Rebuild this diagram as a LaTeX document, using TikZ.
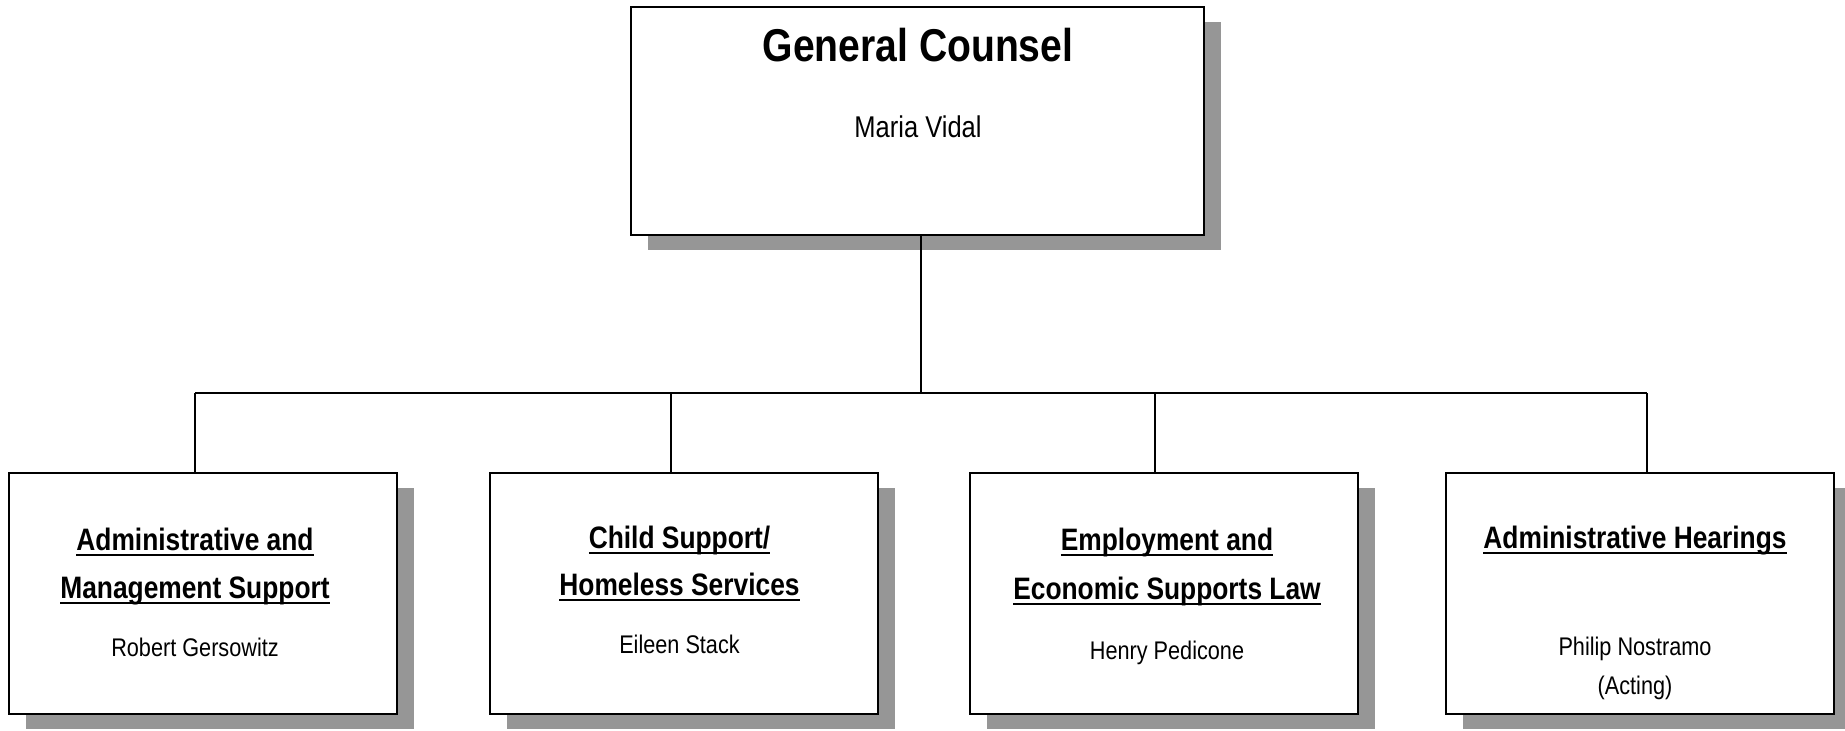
\documentclass[tikz,border=0pt]{standalone}
\usepackage{fontspec}
\setmainfont{Liberation Sans}[FakeStretch=0.85]
\usetikzlibrary{shadows}
\definecolor{shadegray}{RGB}{150,150,150}
\newcommand\ulin[1]{{\setbox0\hbox{#1}\rlap{\rule[-3pt]{\wd0}{1.25pt}}\box0}}
\begin{document}
\begin{tikzpicture}[x=0.5pt,y=-0.5pt,
  orgbox/.style={draw=black, line width=1pt, fill=white, inner sep=0pt,
    general shadow={fill=shadegray, shadow xshift=8.5pt, shadow yshift=-7.5pt}},
  unitbox/.style={orgbox, minimum width=194pt, minimum height=120.5pt},
  titletext/.style={anchor=base, inner sep=0pt, font=\fontsize{23}{27}\selectfont\bfseries},
  bossname/.style={anchor=base, inner sep=0pt, font=\fontsize{15}{18}\selectfont},
  headtext/.style={anchor=base, inner sep=0pt, font=\fontsize{15.5}{18}\selectfont\bfseries},
  nametext/.style={anchor=base, inner sep=0pt, font=\fontsize{12.75}{15}\selectfont},
  link/.style={draw=black, line width=1pt}]
\useasboundingbox (0,0) rectangle (1845,730);

% top box
\node[orgbox, minimum width=286.5pt, minimum height=114pt] (gc) at (917.5,121) {};
\node[titletext] (gct) at (918,61) {General Counsel};
\node[bossname] (gcn) at (918,137) {Maria Vidal};

% unit boxes
\node[unitbox] (b1) at (203,593.5) {};
\node[unitbox] (b2) at (684.25,593.5) {};
\node[unitbox] (b3) at (1164,593.5) {};
\node[unitbox] (b4) at (1640,593.5) {};

% box 1
\node[headtext] (b1h1) at (195,550) {\ulin{Administrative and}};
\node[headtext] (b1h2) at (195,598) {\ulin{Management Support}};
\node[nametext] (b1n) at (195,656) {Robert Gersowitz};
% box 2
\node[headtext] (b2h1) at (679.5,548) {\ulin{Child Support/}};
\node[headtext] (b2h2) at (679.5,595) {\ulin{Homeless Services}};
\node[nametext] (b2n) at (679.5,653) {Eileen Stack};
% box 3
\node[headtext] (b3h1) at (1167,550) {\ulin{Employment and}};
\node[headtext] (b3h2) at (1167,599) {\ulin{Economic Supports Law}};
\node[nametext] (b3n) at (1167,659) {Henry Pedicone};
% box 4
\node[headtext] (b4h1) at (1635,548) {\ulin{Administrative Hearings}};
\node[nametext] (b4n1) at (1635,655) {Philip Nostramo};
\node[nametext] (b4n2) at (1635,694) {(Acting)};

% connectors
\coordinate (hub) at (921,393);
\coordinate (d1) at (195,393);
\coordinate (d2) at (671,393);
\coordinate (d3) at (1155,393);
\coordinate (d4) at (1647,393);
\draw[link] (gc.south -| hub) -- (hub);
\draw[link] (d1) -- (d4);
\draw[link] (d1) -- (d1 |- b1.north);
\draw[link] (d2) -- (d2 |- b2.north);
\draw[link] (d3) -- (d3 |- b3.north);
\draw[link] (d4) -- (d4 |- b4.north);
\end{tikzpicture}
\end{document}
